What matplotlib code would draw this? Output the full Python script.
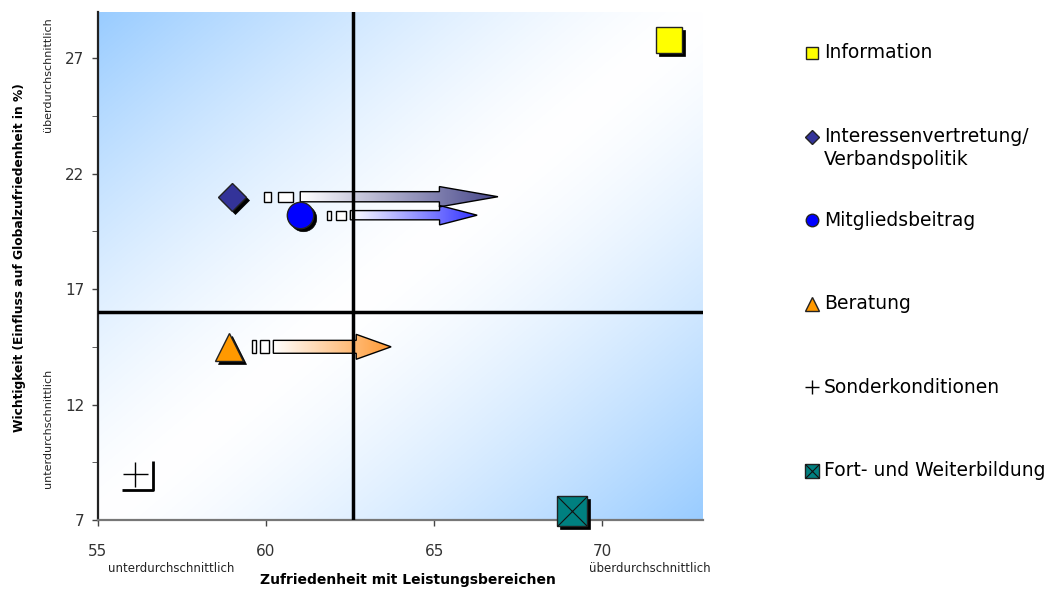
import numpy as np
import matplotlib.pyplot as plt
from matplotlib.colors import LinearSegmentedColormap, to_rgb
from matplotlib.patches import Polygon, Rectangle
from matplotlib.path import Path
from matplotlib.transforms import offset_copy

plt.rcParams['font.family'] = ['DejaVu Sans']

# Leistungsbereiche
labels = ['Information', 'Interessenvertretung/\nVerbandspolitik', 'Mitgliedsbeitrag',
          'Beratung', 'Sonderkonditionen', 'Fort- und Weiterbildung']
zufriedenheit = [72.0, 59.0, 61.0, 58.9, 56.1, 69.1]
wichtigkeit = [27.8, 21.0, 20.2, 14.5, 9.0, 7.4]

# Trendpfeile (Beginn / Spitze auf der x-Achse), nur fuer drei Bereiche
pfeil_bereich = [1, 2, 3]
pfeil_von = [59.93, 61.81, 59.57]
pfeil_bis = [66.9, 66.28, 63.72]

# Mittelwerte (Quadrantengrenzen)
mittel_x = 62.6
mittel_y = 16.0

x_ticks = [55, 60, 65, 70]
y_ticks = [7, 12, 17, 22, 27]

# styles
farben = ['#ffff00', '#333399', '#0000ff', '#ff9900', 'black', '#008080']
marker = ['s', 'D', 'o', '^', '+', 's']
groesse = [19, 14.5, 19, 20, 18, 21]
pfeil_farben = ['#46468a', '#3333ff', '#ff9933']
pfeil_hoehe = [(0.22, 0.44), (0.2, 0.42), (0.28, 0.54)]

fig = plt.figure(figsize=(10.61, 5.89), dpi=100)
ax = fig.add_axes([98 / 1061, 69 / 589, 605 / 1061, 508 / 589])

# Hintergrund: diagonaler Verlauf blau - weiss - blau
xf = np.linspace(0, 1, 400)[None, :]
yf = np.linspace(0, 1, 400)[:, None]
t = np.abs(xf - yf) ** 1.4
blau = np.array(to_rgb('#99ccff'))
bg = 1 - t[..., None] * (1 - blau)
ax.imshow(bg, extent=[55, 73, 7, 29], origin='lower', aspect='auto', zorder=0)


def trend_pfeil(ax, x0, x1, y, farbe, hs, hk):
    n = x1 - x0
    # zwei kleine Kaestchen vor dem Schaft
    for a, b in [(0.0, 0.03), (0.063, 0.126)]:
        ax.add_patch(Rectangle((x0 + a * n, y - hs), (b - a) * n, 2 * hs,
                               fc='white', ec='black', lw=1, zorder=3))
    s0 = x0 + 0.156 * n
    kopf = x1 - 0.25 * n
    verts = [(s0, y - hs), (kopf, y - hs), (kopf, y - hk), (x1, y),
             (kopf, y + hk), (kopf, y + hs), (s0, y + hs)]
    poly = Polygon(verts, closed=True, fc='none', ec='black', lw=1, zorder=3.5)
    ax.add_patch(poly)
    cmap = LinearSegmentedColormap.from_list('p', ['white', farbe])
    grad = np.linspace(0, 1, 256)[None, :]
    im = ax.imshow(grad, cmap=cmap, extent=[s0, x1, y - hk, y + hk],
                   aspect='auto', zorder=3)
    im.set_clip_path(poly)


for i, k in enumerate(pfeil_bereich):
    hs, hk = pfeil_hoehe[i]
    trend_pfeil(ax, pfeil_von[i], pfeil_bis[i], wichtigkeit[k], pfeil_farben[i], hs, hk)

# Quadrantenlinien
ax.axvline(mittel_x, color='black', lw=2.5, zorder=4)
ax.axhline(mittel_y, color='black', lw=2.5, zorder=4)

# Punkte mit Schatten
schatten = offset_copy(ax.transData, fig=fig, x=3, y=-3, units='dots')
ecke = Path([(1.44, 1.0), (1.44, -1.24), (-1.0, -1.24)],
            [Path.MOVETO, Path.LINETO, Path.LINETO])
for i in range(len(labels)):
    x, y = zufriedenheit[i], wichtigkeit[i]
    if marker[i] == '+':
        ax.plot(x, y, marker=ecke, ms=26, mfc='none', mec='black', mew=2.0,
                zorder=5)
        ax.plot(x, y, marker='+', ms=18, mec='black', mew=1, zorder=6)
        continue
    ax.plot(x, y, marker=marker[i], ms=groesse[i], mfc='black', mec='black', mew=0.5,
            transform=schatten, zorder=5, clip_on=False)
    ax.plot(x, y, marker=marker[i], ms=groesse[i], mfc=farben[i], mec='#222222',
            mew=1, zorder=6, clip_on=False)
    if i == 5:
        ax.plot(x, y, marker='x', ms=groesse[i], mec='#111111', mew=0.8, zorder=7,
                clip_on=False)

ax.set_xlim(55, 73)
ax.set_ylim(7, 29)
ax.set_xticks(x_ticks)
ax.set_yticks(y_ticks)
ax.set_yticks(np.array(y_ticks[:-1]) + 2.5, minor=True)
ax.tick_params(axis='both', labelsize=11, labelcolor='#333333', direction='out',
               length=4, width=1, color='#444444')
ax.tick_params(axis='x', pad=13)
ax.tick_params(axis='y', pad=6)
ax.tick_params(axis='y', which='minor', length=4, color='#444444')
for s in ['top', 'right']:
    ax.spines[s].set_visible(False)
ax.spines['left'].set_color('#222222')
ax.spines['left'].set_linewidth(1.6)
ax.spines['bottom'].set_color('#777777')
ax.spines['bottom'].set_linewidth(1.6)

# Achsentexte
fig.text(20 / 1061, 1 - 258 / 589, 'Wichtigkeit (Einfluss auf Globalzufriedenheit in %)',
         rotation=90, ha='center', va='center', fontsize=8.8, weight='bold')
fig.text(48 / 1061, 1 - 75 / 589, 'überdurchschnittlich', rotation=90,
         ha='center', va='center', fontsize=8, color='#222222')
fig.text(48 / 1061, 1 - 428 / 589, 'unterdurchschnittlich', rotation=90,
         ha='center', va='center', fontsize=8, color='#222222')
fig.text(171 / 1061, 1 - 568 / 589, 'unterdurchschnittlich',
         ha='center', va='center', fontsize=8.5, color='#222222')
fig.text(650 / 1061, 1 - 568 / 589, 'überdurchschnittlich',
         ha='center', va='center', fontsize=8.5, color='#222222')
fig.text(408 / 1061, 1 - 580 / 589, 'Zufriedenheit mit Leistungsbereichen',
         ha='center', va='center', fontsize=10, weight='bold')

# Legende
lg = fig.add_axes([0, 0, 1, 1], zorder=-1)
lg.set_xlim(0, 1061)
lg.set_ylim(589, 0)
lg.axis('off')
leg_ms = [9, 7, 9, 10, 10, 10]
for i, lab in enumerate(labels):
    yy = 53 + i * 83.6
    if marker[i] == '+':
        lg.plot(812, yy, marker='+', ms=leg_ms[i], mec='black', mew=1)
    else:
        lg.plot(812, yy, marker=marker[i], ms=leg_ms[i], mfc=farben[i], mec='#222222', mew=1)
        if i == 5:
            lg.plot(812, yy, marker='x', ms=leg_ms[i], mec='#111111', mew=0.8)
    for j, zeile in enumerate(lab.split('\n')):
        lg.text(824, yy + j * 23, zeile, ha='left', va='center', fontsize=13.5)

fig.savefig('out.png', dpi=100)
